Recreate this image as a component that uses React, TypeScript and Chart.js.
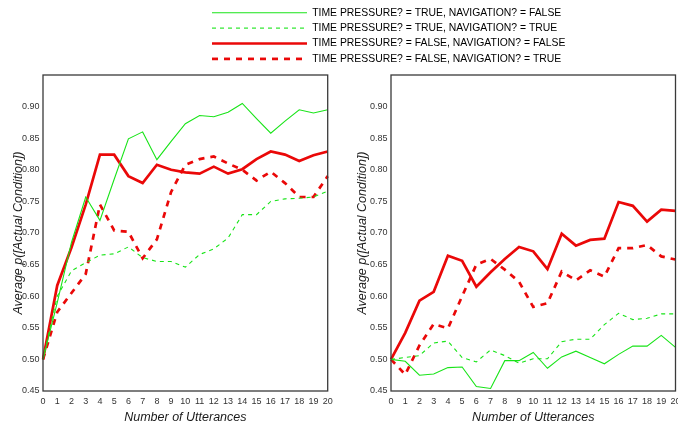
import React, { useEffect, useRef } from 'react';
import { Chart, registerables } from 'chart.js';

Chart.register(...registerables);

// ---- data ----
const utterances = ['0','1','2','3','4','5','6','7','8','9','10','11','12','13','14','15','16','17','18','19','20'];

const seriesLabels = [
  'TIME PRESSURE? = TRUE, NAVIGATION? = FALSE',
  'TIME PRESSURE? = TRUE, NAVIGATION? = TRUE',
  'TIME PRESSURE? = FALSE, NAVIGATION? = FALSE',
  'TIME PRESSURE? = FALSE, NAVIGATION? = TRUE',
];

// left panel
const leftPressureNoNav = [0.50, 0.59, 0.685, 0.757, 0.72, 0.785, 0.849, 0.86, 0.816, 0.845, 0.873, 0.886, 0.884, 0.891, 0.905, 0.881, 0.858, 0.877, 0.895, 0.890, 0.895];
const leftPressureNav = [0.50, 0.60, 0.64, 0.653, 0.665, 0.667, 0.678, 0.661, 0.655, 0.655, 0.646, 0.666, 0.675, 0.692, 0.729, 0.729, 0.750, 0.754, 0.755, 0.757, 0.766];
const leftNoPressureNoNav = [0.50, 0.617, 0.677, 0.745, 0.824, 0.824, 0.790, 0.779, 0.808, 0.800, 0.796, 0.794, 0.805, 0.794, 0.801, 0.817, 0.829, 0.824, 0.814, 0.823, 0.829];
const leftNoPressureNav = [0.50, 0.575, 0.605, 0.635, 0.745, 0.704, 0.702, 0.660, 0.690, 0.765, 0.808, 0.817, 0.821, 0.810, 0.800, 0.783, 0.797, 0.779, 0.757, 0.757, 0.790];

// right panel
const rightPressureNoNav = [0.50, 0.497, 0.475, 0.477, 0.487, 0.488, 0.457, 0.454, 0.498, 0.498, 0.511, 0.486, 0.504, 0.513, 0.503, 0.493, 0.508, 0.521, 0.521, 0.538, 0.519];
const rightPressureNav = [0.50, 0.503, 0.506, 0.526, 0.529, 0.503, 0.496, 0.515, 0.506, 0.494, 0.501, 0.501, 0.528, 0.532, 0.532, 0.555, 0.573, 0.563, 0.565, 0.572, 0.572];
const rightNoPressureNoNav = [0.50, 0.542, 0.593, 0.607, 0.664, 0.656, 0.615, 0.638, 0.659, 0.678, 0.671, 0.643, 0.699, 0.680, 0.689, 0.691, 0.749, 0.743, 0.718, 0.737, 0.735];
const rightNoPressureNav = [0.50, 0.476, 0.522, 0.556, 0.549, 0.600, 0.650, 0.659, 0.642, 0.623, 0.583, 0.589, 0.639, 0.625, 0.641, 0.631, 0.676, 0.676, 0.681, 0.663, 0.658];

const yMin = 0.45;
const yMax = 0.95;
const yStep = 0.05;
const xTitle = 'Number of Utterances';
const yTitle = 'Average p([Actual Condition])';

// ---- styles ----
const GREEN = 'rgb(24, 228, 24)';
const RED = 'rgb(234, 8, 8)';
const FONT = '"Liberation Sans", Arial, Helvetica, sans-serif';

const styles = [
  { borderColor: GREEN, borderWidth: 1.1, borderDash: [] as number[] },
  { borderColor: GREEN, borderWidth: 1.1, borderDash: [4, 4] },
  { borderColor: RED, borderWidth: 2.7, borderDash: [] as number[] },
  { borderColor: RED, borderWidth: 2.7, borderDash: [6, 6] },
];

function buildDatasets(values: number[][]) {
  return values.map((v, i) => ({
    label: seriesLabels[i],
    data: v,
    borderColor: styles[i].borderColor,
    backgroundColor: 'rgba(0,0,0,0)',
    borderWidth: styles[i].borderWidth,
    borderDash: styles[i].borderDash,
    pointRadius: 0,
    pointHoverRadius: 0,
    tension: 0,
    fill: false,
  }));
}

const framePlugin = {
  id: 'plotFrame',
  afterDatasetsDraw(chart: any) {
    const { ctx, chartArea } = chart;
    if (!chartArea) return;
    const { left, top, right, bottom } = chartArea;
    ctx.save();
    ctx.strokeStyle = '#3a3a3a';
    ctx.lineWidth = 1.3;
    ctx.strokeRect(left, top, right - left, bottom - top);
    ctx.restore();
  },
};

function makePanel(canvas: HTMLCanvasElement, values: number[][], axisWidth: number, rightPad: number, yTitlePad: number) {
  return new Chart(canvas, {
    type: 'line',
    data: { labels: utterances, datasets: buildDatasets(values) as any },
    options: {
      responsive: false,
      animation: false,
      events: [],
      layout: { padding: { top: 75, left: 0, right: rightPad, bottom: 0 } },
      plugins: { legend: { display: false }, tooltip: { enabled: false } },
      scales: {
        x: {
          type: 'category',
          offset: false,
          grid: { display: false, drawTicks: false },
          border: { display: false },
          ticks: {
            color: '#333',
            font: { family: FONT, size: 9 },
            padding: 5,
            maxRotation: 0,
            autoSkip: false,
          },
          title: {
            display: true,
            text: xTitle,
            color: '#1a1a1a',
            font: { family: FONT, size: 12.5, style: 'italic' },
            padding: { top: 0, bottom: 6.5 },
          },
          afterFit: (scale: any) => { scale.height = 41; },
        },
        y: {
          type: 'linear',
          min: yMin,
          max: yMax,
          grid: { display: false, drawTicks: false },
          border: { display: false },
          ticks: {
            stepSize: yStep,
            color: '#333',
            font: { family: FONT, size: 9 },
            padding: 3.5,
            callback: (v: any) => (Number(v) > yMax - yStep / 4 ? null : Number(v).toFixed(2)),
          },
          title: {
            display: true,
            text: yTitle,
            color: '#1a1a1a',
            font: { family: FONT, size: 12.5, style: 'italic' },
            padding: { top: yTitlePad, bottom: 0 },
          },
          afterFit: (scale: any) => { scale.width = axisWidth; },
        },
      },
    },
    plugins: [framePlugin],
  } as any);
}

function makeLegend(canvas: HTMLCanvasElement) {
  return new Chart(canvas, {
    type: 'line',
    data: { labels: [], datasets: buildDatasets([[], [], [], []]) as any },
    options: {
      responsive: false,
      animation: false,
      events: [],
      layout: { padding: { top: 2.5, left: 0, right: 0, bottom: 0 } },
      scales: { x: { display: false }, y: { display: false } },
      plugins: {
        tooltip: { enabled: false },
        legend: {
          display: true,
          position: 'top',
          align: 'start',
          labels: {
            usePointStyle: true,
            pointStyle: 'line',
            pointStyleWidth: 95,
            padding: 5,
            color: '#1a1a1a',
            font: { family: FONT, size: 10.4 },
            generateLabels: (chart: any) =>
              chart.data.datasets.map((ds: any, i: number) => ({
                text: ds.label,
                fillStyle: 'rgba(0,0,0,0)',
                strokeStyle: ds.borderColor,
                lineWidth: ds.borderWidth,
                lineDash: ds.borderDash,
                lineCap: 'butt',
                pointStyle: 'line',
                hidden: false,
                datasetIndex: i,
              })),
          },
        },
      },
    },
  } as any);
}

export default function App() {
  const legendRef = useRef<HTMLCanvasElement>(null);
  const leftRef = useRef<HTMLCanvasElement>(null);
  const rightRef = useRef<HTMLCanvasElement>(null);

  useEffect(() => {
    const charts = [
      makeLegend(legendRef.current!),
      makePanel(leftRef.current!, [leftPressureNoNav, leftPressureNav, leftNoPressureNoNav, leftNoPressureNav], 43, 12.3, 11.5),
      makePanel(rightRef.current!, [rightPressureNoNav, rightPressureNav, rightNoPressureNoNav, rightNoPressureNav], 51, 24.5, 15),
    ];
    return () => charts.forEach((c) => c.destroy());
  }, []);

  return (
    <div style={{ position: 'fixed', left: 0, top: 0, width: 678, height: 432, overflow: 'hidden', background: '#fff' }}>
      <canvas ref={leftRef} width={340} height={432} style={{ position: 'absolute', left: 0, top: 0 }} />
      <canvas ref={rightRef} width={360} height={432} style={{ position: 'absolute', left: 340, top: 0 }} />
      <canvas ref={legendRef} width={471} height={200} style={{ position: 'absolute', left: 207, top: 0 }} />
    </div>
  );
}
